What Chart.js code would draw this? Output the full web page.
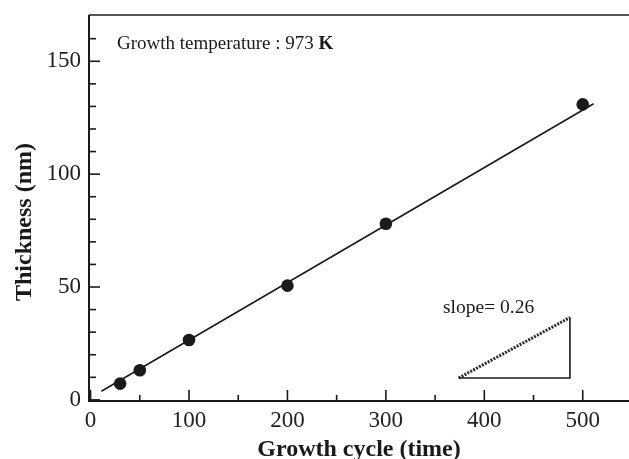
<!DOCTYPE html>
<html><head><meta charset="utf-8">
<script src="https://cdn.jsdelivr.net/npm/chart.js@4/dist/chart.umd.min.js"></script>
<style>html,body{margin:0;padding:0;background:#fff;overflow:hidden;}#wrap{width:629px;height:459px;}canvas{display:block;}</style>
</head><body><div id="wrap"><canvas id="c" width="629" height="459"></canvas></div>
<script>
// ---- data ----
const growthCycles = [30, 50, 100, 200, 300, 500];
const thickness = [7.2, 13.1, 26.5, 50.6, 78.0, 130.9];
const fitCycles = [11, 511];
const fitThickness = [3.8, 131.2];
const slopeLegX = [374, 487, 487];
const slopeLegY = [9.7, 9.7, 36.5];
const slopeHypX = [374, 487];
const slopeHypY = [9.7, 36.5];
const xTickValues = [0, 100, 200, 300, 400, 500];
const xMinorValues = [50, 150, 250, 350, 450];
const yTickValues = [0, 50, 100, 150];
const yMinorValues = [10, 20, 30, 40, 60, 70, 80, 90, 110, 120, 130, 140, 160];
const xTitle = 'Growth cycle (time)';
const yTitle = 'Thickness (nm)';
const noteText = 'Growth temperature : 973 ';
const noteUnit = 'K';
const slopeText = 'slope= 0.26';

const pts = (xs, ys) => xs.map((v, i) => ({x: v, y: ys[i]}));
const SERIF = '"Liberation Serif", "Times New Roman", serif';
const zeroPad = s => { s.paddingLeft = 0; s.paddingRight = 0; s.paddingTop = 0; s.paddingBottom = 0; };

const frame = {
  id: 'frame',
  afterDraw(chart) {
    const {ctx, chartArea: a, scales: {x, y}} = chart;
    ctx.save();
    const seg = (x1, y1, x2, y2) => { ctx.beginPath(); ctx.moveTo(x1, y1); ctx.lineTo(x2, y2); ctx.stroke(); };
    // frame
    ctx.lineWidth = 2;
    ctx.strokeStyle = '#555';
    seg(a.left, a.top, a.right, a.top);
    ctx.strokeStyle = '#1a1a1a';
    ctx.beginPath();
    ctx.moveTo(a.left, a.top); ctx.lineTo(a.left, a.bottom); ctx.lineTo(a.right, a.bottom);
    ctx.stroke();
    // inward tick marks
    ctx.lineWidth = 1.6;
    xTickValues.forEach(v => { const p = x.getPixelForValue(v); seg(p, a.bottom, p, a.bottom - 11); });
    xMinorValues.forEach(v => { const p = x.getPixelForValue(v); seg(p, a.bottom, p, a.bottom - 6); });
    yTickValues.forEach(v => { const p = y.getPixelForValue(v); seg(a.left, p, a.left + 11, p); });
    yMinorValues.forEach(v => { const p = y.getPixelForValue(v); seg(a.left, p, a.left + 7, p); });
    // axis titles
    ctx.fillStyle = '#1a1a1a';
    ctx.font = 'bold 24px ' + SERIF;
    ctx.textAlign = 'center';
    ctx.textBaseline = 'alphabetic';
    ctx.fillText(xTitle, (a.left + a.right) / 2, 456);
    ctx.save();
    ctx.translate(31, 222);
    ctx.rotate(-Math.PI / 2);
    ctx.fillText(yTitle, 0, 0);
    ctx.restore();
    // annotations
    ctx.textAlign = 'left';
    ctx.font = '19px ' + SERIF;
    const nx = 117, ny = 48.5;
    ctx.fillText(noteText, nx, ny);
    const w = ctx.measureText(noteText).width;
    ctx.font = 'bold 19px ' + SERIF;
    ctx.fillText(noteUnit, nx + w, ny);
    ctx.font = '19.5px ' + SERIF;
    ctx.fillText(slopeText, 443, 312.5);
    ctx.restore();
  }
};

new Chart(document.getElementById('c'), {
  type: 'scatter',
  data: {
    datasets: [
      {data: pts(fitCycles, fitThickness), showLine: true, borderColor: '#1a1a1a', borderWidth: 1.6, pointRadius: 0, order: 2},
      {data: pts(growthCycles, thickness), showLine: false, backgroundColor: '#1a1a1a', borderColor: '#1a1a1a', pointRadius: 6.3, borderWidth: 0, order: 1},
      {data: pts(slopeLegX, slopeLegY), showLine: true, borderColor: '#1a1a1a', borderWidth: 1.6, pointRadius: 0},
      {data: pts(slopeHypX, slopeHypY), showLine: true, borderColor: '#2a2a2a', borderWidth: 3, borderDash: [2, 1.3], pointRadius: 0}
    ]
  },
  options: {
    responsive: false,
    devicePixelRatio: 1,
    animation: false,
    layout: {autoPadding: false, padding: {top: 15, right: 0, left: 0, bottom: 0}},
    plugins: {legend: {display: false}, tooltip: {enabled: false}},
    scales: {
      x: {
        type: 'linear', min: -1.6, max: 547,
        grid: {display: false, drawTicks: false}, border: {display: false},
        afterBuildTicks: s => { s.ticks = xTickValues.map(v => ({value: v})); },
        afterFit: s => { s.height = 58; zeroPad(s); },
        ticks: {padding: 6, maxRotation: 0, color: '#222', font: {family: SERIF, size: 23}}
      },
      y: {
        type: 'linear', min: -0.5, max: 170.5,
        grid: {display: false, drawTicks: false}, border: {display: false},
        afterBuildTicks: s => { s.ticks = yTickValues.map(v => ({value: v})); },
        afterFit: s => { s.width = 89; zeroPad(s); },
        ticks: {padding: 8, color: '#222', font: {family: SERIF, size: 23}}
      }
    }
  },
  plugins: [frame]
});
</script></body></html>
